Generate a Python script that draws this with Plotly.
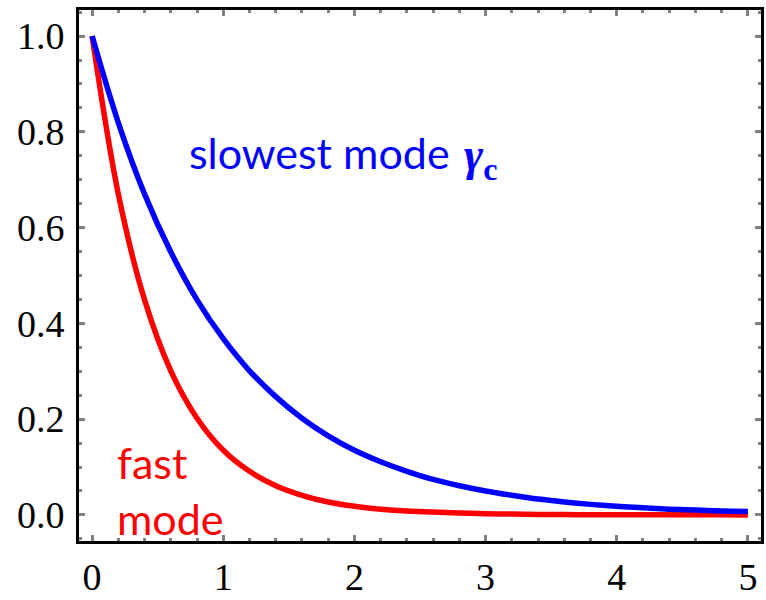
import plotly.graph_objects as go

# values
t = [0.0, 0.2, 0.4, 0.6, 0.8, 1.0, 1.2, 1.4, 1.6, 1.8, 2.0, 2.2, 2.4, 2.6, 2.8,
     3.0, 3.2, 3.4, 3.6, 3.8, 4.0, 4.2, 4.4, 4.6, 4.8, 5.0]
slow_mode = [1.000, 0.819, 0.670, 0.549, 0.449, 0.368, 0.301, 0.247, 0.202, 0.165,
             0.135, 0.111, 0.091, 0.074, 0.061, 0.050, 0.041, 0.033, 0.027, 0.022,
             0.018, 0.015, 0.012, 0.010, 0.008, 0.007]
fast_mode = [1.000, 0.670, 0.449, 0.301, 0.202, 0.135, 0.091, 0.061, 0.041, 0.027,
             0.018, 0.012, 0.008, 0.006, 0.004, 0.0025, 0.0017, 0.0011, 0.0007, 0.0005,
             0.0003, 0.0002, 0.0002, 0.0001, 0.0001, 0.0000]

x_ticks = [0, 1, 2, 3, 4, 5]
y_ticks = [0.0, 0.2, 0.4, 0.6, 0.8, 1.0]
y_tick_labels = ["0.0", "0.2", "0.4", "0.6", "0.8", "1.0"]

fig = go.Figure()
fig.add_trace(go.Scatter(x=t, y=fast_mode, mode="lines",
                         line=dict(color="#ff0000", width=5.5, shape="spline", smoothing=1.0)))
fig.add_trace(go.Scatter(x=t, y=slow_mode, mode="lines",
                         line=dict(color="#0000ff", width=5.5, shape="spline", smoothing=1.0)))

tick_font = dict(family="Liberation Serif", size=38, color="black")

fig.update_xaxes(range=[-0.1, 5.1], tickvals=x_ticks, ticktext=[str(v) for v in x_ticks],
                 ticks="inside", ticklen=6, tickwidth=3, tickcolor="#808080",
                 minor=dict(dtick=0.2, ticks="inside", ticklen=3, tickwidth=3, tickcolor="#808080",
                            tick0=0),
                 showline=True, linecolor="black", linewidth=3, mirror="ticks",
                 showgrid=False, zeroline=False, tickfont=tick_font)
fig.update_yaxes(range=[-0.0545, 1.0545], tickvals=y_ticks, ticktext=y_tick_labels,
                 ticks="inside", ticklen=6, tickwidth=3, tickcolor="#808080",
                 minor=dict(dtick=0.05, ticks="inside", ticklen=3, tickwidth=3, tickcolor="#808080",
                            tick0=0),
                 showline=True, linecolor="black", linewidth=3, mirror="ticks",
                 showgrid=False, zeroline=False, tickfont=tick_font, ticklabelstandoff=4)

fig.add_annotation(x=0.72, y=0.756, xref="x", yref="y", xanchor="left", yanchor="middle",
                   showarrow=False, text="slowest mode",
                   font=dict(family="Lato", size=43, color="#0000ff"))
fig.add_annotation(x=2.82, y=0.745, xref="x", yref="y", xanchor="left", yanchor="middle",
                   showarrow=False, text="<b><i>γ</i></b><sub><b>c</b></sub>",
                   font=dict(family="Liberation Serif", size=46, color="#0000ff"))
fig.add_annotation(x=0.175, y=0.052, xref="x", yref="y", xanchor="left", yanchor="middle",
                   showarrow=False, align="left",
                   text="fast<br>mode",
                   font=dict(family="Lato", size=43, color="#ff0000"))

fig.update_layout(width=766, height=600, margin=dict(l=79, r=2, t=10, b=41),
                  plot_bgcolor="white", paper_bgcolor="white", showlegend=False)

fig.write_html("out.html")
